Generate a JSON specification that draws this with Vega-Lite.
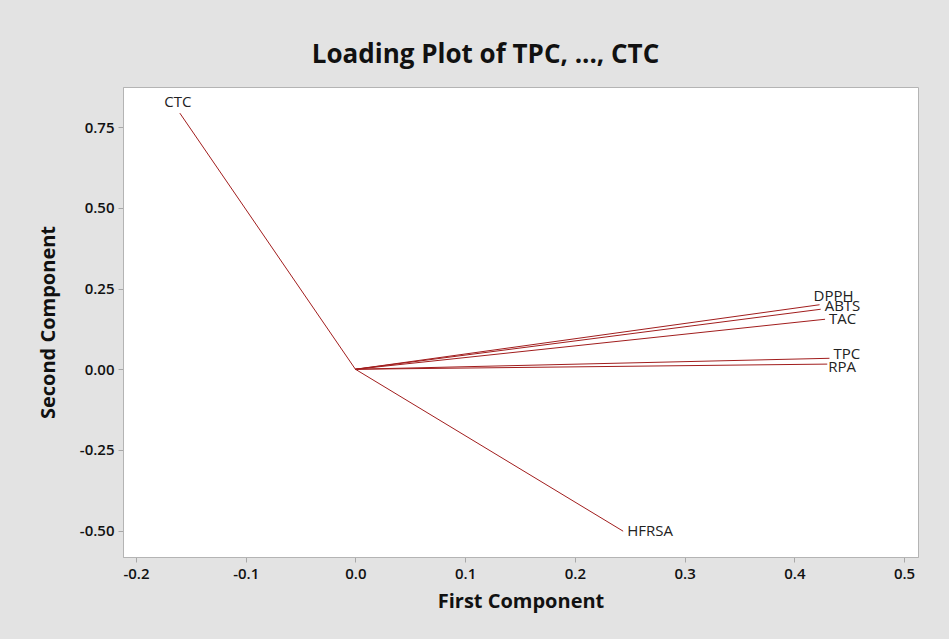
{
  "$schema": "https://vega.github.io/schema/vega-lite/v6.json",
  "width": 795,
  "height": 470,
  "autosize": {"type": "none"},
  "padding": {"left": 123, "top": 87, "right": 31, "bottom": 82},
  "background": "#e3e3e3",
  "title": {
    "text": "Loading Plot of TPC, ..., CTC",
    "font": "Open Sans",
    "fontSize": 26,
    "fontWeight": "bold",
    "color": "#111111",
    "anchor": "middle",
    "dx": -35,
    "offset": 19
  },
  "config": {
    "view": {"stroke": "#b4b4b4", "strokeWidth": 1, "fill": "white"},
    "axis": {
      "labelFont": "Open Sans",
      "labelFontSize": 15,
      "labelFontWeight": 600,
      "labelColor": "#111111",
      "titleFont": "Open Sans",
      "titleFontSize": 20,
      "titleFontWeight": "bold",
      "titleColor": "#111111",
      "domainColor": "#b4b4b4",
      "tickColor": "#a8a8a8",
      "tickSize": 5,
      "grid": false
    }
  },
  "data": {
    "values": [
      {"var": "TPC", "pc1": 0.432, "pc2": 0.034},
      {"var": "RPA", "pc1": 0.430, "pc2": 0.016},
      {"var": "DPPH", "pc1": 0.423, "pc2": 0.200},
      {"var": "ABTS", "pc1": 0.424, "pc2": 0.186},
      {"var": "TAC", "pc1": 0.428, "pc2": 0.155},
      {"var": "HFRSA", "pc1": 0.244, "pc2": -0.502},
      {"var": "CTC", "pc1": -0.160, "pc2": 0.794}
    ]
  },
  "encoding": {
    "x": {
      "field": "pc1",
      "type": "quantitative",
      "scale": {"domain": [-0.2118, 0.5127], "nice": false, "zero": false},
      "axis": {"title": "First Component", "values": [-0.2, -0.1, 0, 0.1, 0.2, 0.3, 0.4, 0.5], "labelExpr": "replace(format(datum.value, '.1f'), '\u2212', '-')", "labelPadding": 4, "titlePadding": 10}
    },
    "y": {
      "field": "pc2",
      "type": "quantitative",
      "scale": {"domain": [-0.582, 0.875], "nice": false, "zero": false},
      "axis": {"title": "Second Component", "values": [-0.5, -0.25, 0, 0.25, 0.5, 0.75], "labelExpr": "replace(format(datum.value, '.2f'), '\u2212', '-')", "labelPadding": 4, "titlePadding": 21}
    }
  },
  "layer": [
    {
      "mark": {"type": "rule", "color": "#a11d1d", "strokeWidth": 1},
      "encoding": {"x2": {"datum": 0}, "y2": {"datum": 0}}
    },
    {
      "transform": [{"filter": "datum.var === 'HFRSA' || datum.var === 'TAC'"}],
      "mark": {"type": "text", "align": "left", "baseline": "middle", "dx": 4, "font": "Open Sans", "fontSize": 15, "color": "#222222"},
      "encoding": {"text": {"field": "var"}}
    },
    {
      "transform": [{"filter": "datum.var === 'DPPH'"}],
      "mark": {"type": "text", "align": "left", "baseline": "middle", "dx": -6, "dy": -9, "font": "Open Sans", "fontSize": 15, "color": "#222222"},
      "encoding": {"text": {"field": "var"}}
    },
    {
      "transform": [{"filter": "datum.var === 'ABTS'"}],
      "mark": {"type": "text", "align": "left", "baseline": "middle", "dx": 4, "dy": -3, "font": "Open Sans", "fontSize": 15, "color": "#222222"},
      "encoding": {"text": {"field": "var"}}
    },
    {
      "transform": [{"filter": "datum.var === 'TPC'"}],
      "mark": {"type": "text", "align": "left", "baseline": "middle", "dx": 4, "dy": -4, "font": "Open Sans", "fontSize": 15, "color": "#222222"},
      "encoding": {"text": {"field": "var"}}
    },
    {
      "transform": [{"filter": "datum.var === 'RPA'"}],
      "mark": {"type": "text", "align": "left", "baseline": "middle", "dx": 1, "dy": 3, "font": "Open Sans", "fontSize": 15, "color": "#222222"},
      "encoding": {"text": {"field": "var"}}
    },
    {
      "transform": [{"filter": "datum.var === 'CTC'"}],
      "mark": {"type": "text", "align": "center", "baseline": "middle", "dx": -2, "dy": -11, "font": "Open Sans", "fontSize": 15, "color": "#222222"},
      "encoding": {"text": {"field": "var"}}
    }
  ]
}
